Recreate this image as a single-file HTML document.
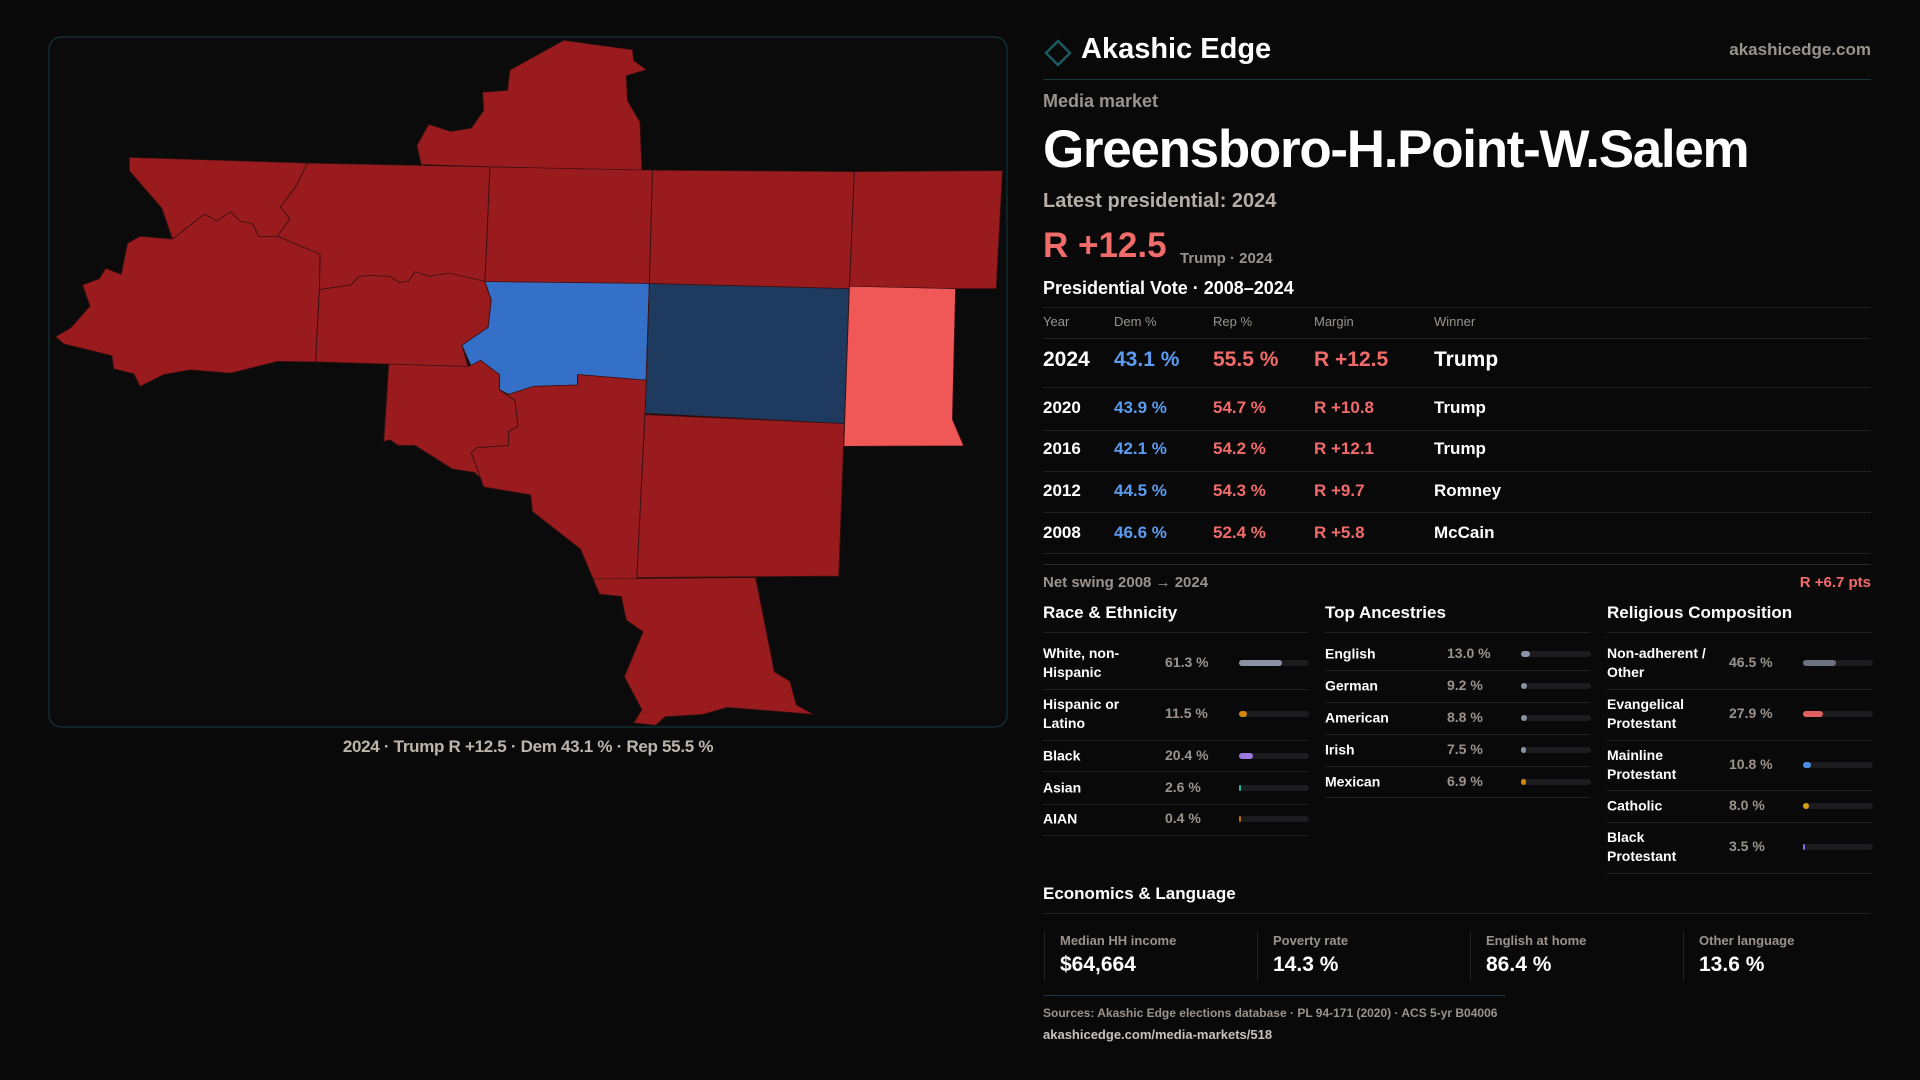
<!DOCTYPE html>
<html><head><meta charset="utf-8">
<style>
*{margin:0;padding:0;box-sizing:border-box}
body{width:1920px;height:1080px;background:#0a0909;font-family:"Liberation Sans",sans-serif;color:#fff;position:relative;overflow:hidden}
.a{position:absolute;white-space:nowrap}
.hl{position:absolute;height:1px;background:#222}
.g{color:#9a938c}
.bar{position:absolute;height:6px;border-radius:3px;background:#1c1c1e}
.bar i{display:block;height:6px;border-radius:3px}
.tr{position:absolute;left:1043px;width:828px;font-size:17px;font-weight:bold}
.tr span{position:absolute}
</style></head><body>
<svg width="1920" height="1080" style="position:absolute;left:0;top:0" id="mapsvg">
<rect x="49" y="37" width="958" height="690" rx="12" fill="#0b0b0c" stroke="#12343a" stroke-width="1.2"/>
<g id="counties" transform="translate(40,30) scale(0.625,0.472)"></g>
</svg>
<div class="a" style="left:0;width:1056px;text-align:center;top:737px;font-size:17px;color:#bdb5ab;font-weight:bold;letter-spacing:-0.3px">2024 · Trump R +12.5 · Dem 43.1 % · Rep 55.5 %</div>

<svg class="a" style="left:1043px;top:38px" width="30" height="30"><path d="M15 3 L27 15 L15 27 L3 15 Z" fill="none" stroke="#1a5a60" stroke-width="2.5"/></svg>
<div class="a" style="left:1081px;top:33px;font-size:29px;font-weight:bold">Akashic Edge</div>
<div class="a g" style="right:49px;top:40px;font-size:17px;font-weight:bold">akashicedge.com</div>
<div class="hl" style="left:1043px;width:828px;top:79px;background:#123a40"></div>
<div class="a g" style="left:1043px;top:91px;font-size:18px;font-weight:bold">Media market</div>
<div class="a" style="left:1043px;top:119px;font-size:53px;font-weight:bold;letter-spacing:-1.3px">Greensboro-H.Point-W.Salem</div>
<div class="a" style="left:1043px;top:190px;font-size:20px;font-weight:bold;color:#b5aea6">Latest presidential: 2024</div>
<div class="a" style="left:1043px;top:226px;font-size:35px;font-weight:bold;color:#f26b6b">R +12.5</div>
<div class="a g" style="left:1180px;top:250px;font-size:15px;font-weight:bold">Trump · 2024</div>
<div class="a" style="left:1043px;top:278px;font-size:18px;font-weight:bold">Presidential Vote · 2008–2024</div>
<div class="hl" style="left:1043px;width:828px;top:307px"></div>
<div class="tr g" style="top:314px;font-size:13px;font-weight:normal"><span style="left:0">Year</span><span style="left:71px">Dem %</span><span style="left:170px">Rep %</span><span style="left:271px">Margin</span><span style="left:391px">Winner</span></div>
<div class="hl" style="left:1043px;width:828px;top:338px"></div>
<div id="rows"></div>
<div class="hl" style="left:1043px;width:828px;top:564px;background:#2a2a2a"></div>
<div class="a g" style="left:1043px;top:574px;font-size:15px;font-weight:bold">Net swing 2008 → 2024</div>
<div class="a" style="right:49px;top:574px;font-size:15px;font-weight:bold;color:#f26b6b">R +6.7 pts</div>

<div class="a" style="left:1043px;top:603px;font-size:17px;font-weight:bold">Race &amp; Ethnicity</div>
<div class="a" style="left:1325px;top:603px;font-size:17px;font-weight:bold">Top Ancestries</div>
<div class="a" style="left:1607px;top:603px;font-size:17px;font-weight:bold">Religious Composition</div>
<div id="demo"></div>

<div class="a" style="left:1043px;top:884px;font-size:17px;font-weight:bold">Economics &amp; Language</div>
<div class="hl" style="left:1043px;width:828px;top:913px"></div>
<div id="cards"></div>
<div class="hl" style="left:1043px;width:463px;top:995px;background:#123a40"></div>
<div class="a g" style="left:1043px;top:1006px;font-size:12px;font-weight:bold">Sources: Akashic Edge elections database · PL 94-171 (2020) · ACS 5-yr B04006</div>
<div class="a" style="left:1043px;top:1027px;font-size:13px;font-weight:bold;color:#c8c2bb">akashicedge.com/media-markets/518</div>

<script>
// Map data
const countyNames=["north","west-top","mid-top","center-top","east-top","far-east-top","west-big","mid-west","center-blue","center-navy","east-pink","southwest","south-mid","southeast","south"];
const countyMargins=[30,32,30,28,28,28,32,30,-20,-3,5,30,30,30,30];
const countyShapes=[
"838,22 948,42 950,65 970,84 938,97 940,150 960,195 963,297 860,295 720,290 610,285 603,245 622,200 657,215 690,208 710,170 708,132 748,128 752,85",
"143,270 428,282 410,330 385,375 400,400 380,437 350,438 340,410 320,405 305,385 283,405 263,390 212,443 195,378 143,298",
"428,282 720,290 712,533 655,515 623,522 600,512 590,532 575,535 560,522 530,520 510,522 498,540 447,550 448,475 380,437 400,400 385,375 410,330",
"720,290 980,297 975,537 712,533",
"980,297 1303,300 1295,548 975,537",
"1303,300 1540,298 1530,548 1295,548",
"212,443 263,390 283,405 305,385 320,405 340,410 350,438 380,437 448,475 447,550 441,703 380,702 305,727 240,720 198,730 160,755 150,728 118,718 115,690 38,665 25,650 50,630 80,585 68,540 95,527 105,505 130,518 140,452 160,437",
"447,550 498,540 510,522 530,520 560,522 575,535 590,532 600,512 623,522 655,515 712,533 722,572 717,630 675,668 685,713 441,703",
"712,533 975,537 970,742 860,730 860,752 790,755 750,772 735,762 735,730 705,700 690,713 675,668 717,630 722,572",
"975,537 1295,548 1287,834 968,812",
"1295,543 1465,548 1460,825 1478,881 1286,882",
"558,708 685,713 705,700 735,730 735,762 760,785 765,840 750,850 750,880 700,885 690,895 705,950 695,937 660,930 600,880 573,880 560,868 550,872",
"735,762 750,772 790,755 860,752 860,730 970,742 968,812 955,1163 885,1163 865,1100 788,1020 785,985 710,968 705,950 690,895 700,885 750,880 750,850 765,840 760,785",
"968,815 1287,834 1278,1157 955,1160",
"885,1163 1145,1160 1175,1360 1200,1380 1210,1430 1238,1450 1100,1435 1060,1450 1000,1455 985,1473 950,1468 963,1440 935,1370 965,1275 938,1250 930,1200 895,1195"];
function marginColor(m){if(m>=10)return"#991b1e";if(m>0)return"#f05858";if(m>-10)return"#1e3a5f";return"#3470c8";}
const NS="http://www.w3.org/2000/svg";
const g=document.getElementById('counties');
countyShapes.forEach((pts,i)=>{const p=document.createElementNS(NS,'polygon');p.setAttribute('points',pts);p.setAttribute('fill',marginColor(countyMargins[i]));p.setAttribute('stroke','#3a1010');p.setAttribute('stroke-width','1.5');


g.appendChild(p);});

// Vote table
const years=["2024","2020","2016","2012","2008"];
const demPct=[43.1,43.9,42.1,44.5,46.6];
const repPct=[55.5,54.7,54.2,54.3,52.4];
const margins=[12.5,10.8,12.1,9.7,5.8];
const winners=["Trump","Trump","Trump","Romney","McCain"];
const rowTops=[348,398,439,481,523];const lineTops=[387,430,471,512,553];
const rows=document.getElementById('rows');
years.forEach((y,i)=>{const d=document.createElement('div');d.className='tr';d.style.top=rowTops[i]+'px';if(i==0){d.style.fontSize='21px';}


d.innerHTML=`<span style="left:0">${y}</span><span style="left:71px;color:#5b9cf0">${demPct[i].toFixed(1)} %</span><span style="left:170px;color:#f26b6b">${repPct[i].toFixed(1)} %</span><span style="left:271px;color:#f26b6b">R +${margins[i].toFixed(1)}</span><span style="left:391px">${winners[i]}</span>`;
rows.appendChild(d);const l=document.createElement('div');l.className='hl';l.style.cssText=`left:1043px;width:828px;top:${lineTops[i]}px`;rows.appendChild(l);});

// Demographics
const raceLabels=["White, non-<br>Hispanic","Hispanic or<br>Latino","Black","Asian","AIAN"];
const raceValues=[61.3,11.5,20.4,2.6,0.4];
const raceColors=["#8a94a6","#d4860b","#9b7be0","#22b89a","#c26a1a"];
const ancLabels=["English","German","American","Irish","Mexican"];
const ancValues=[13.0,9.2,8.8,7.5,6.9];
const ancColors=["#8a94a6","#8a94a6","#8a94a6","#8a94a6","#d4860b"];
const relLabels=["Non-adherent /<br>Other","Evangelical<br>Protestant","Mainline<br>Protestant","Catholic","Black<br>Protestant"];
const relValues=[46.5,27.9,10.8,8.0,3.5];
const relColors=["#6b7280","#e06060","#4a8fe0","#d4a017","#8a6ee0"];
const demo=document.getElementById('demo');
function col(key,x,labels,vals,colors,centers,lines){
 labels.forEach((lb,i)=>{const c=centers[i];
  const L=document.createElement('div');L.className='a';L.style.cssText=`left:${x}px;top:${c}px;transform:translateY(-50%);font-size:14px;font-weight:bold;line-height:19px`;L.innerHTML=lb;
  
  
  demo.appendChild(L);
  const V=document.createElement('div');V.className='a g';V.style.cssText=`left:${x+122}px;top:${c-9}px;font-size:14px;font-weight:bold`;V.textContent=vals[i].toFixed(1)+' %';
  
  
  demo.appendChild(V);
  const B=document.createElement('div');B.className='bar';B.style.cssText=`left:${x+196}px;top:${c-3}px;width:70px`;
  B.innerHTML=`<i style="width:${Math.max(2,vals[i]/100*70)}px;background:${colors[i]}"></i>`;
  
  
  demo.appendChild(B);
 });
 [632].concat(lines).forEach(t=>{const l=document.createElement('div');l.className='hl';l.style.cssText=`left:${x}px;width:265px;top:${t}px`;demo.appendChild(l);});
}
col('race',1043,raceLabels,raceValues,raceColors,[663,714,756,788,819],[689,740,771,804,835]);
col('ancestry',1325,ancLabels,ancValues,ancColors,[654,686,718,750,782],[670,702,734,766,797]);
col('religion',1607,relLabels,relValues,relColors,[663,714,765,806,847],[689,740,790,822,873]);

// Econ cards
const cardLabels=["Median HH income","Poverty rate","English at home","Other language"];
const cardValues=["$64,664","14.3 %","86.4 %","13.6 %"];
const cardX=[1044,1257,1470,1683];
const cards=document.getElementById('cards');
cardLabels.forEach((lb,i)=>{const d=document.createElement('div');d.className='a';d.style.cssText=`left:${cardX[i]}px;top:931px;height:50px;width:200px;border-left:1px solid #222;padding-left:15px`;
 
 
 d.innerHTML=`<div class="g" style="font-size:13px;font-weight:bold;margin-top:2px">${lb}</div><div style="font-size:21px;font-weight:bold;margin-top:5px">${cardValues[i]}</div>`;cards.appendChild(d);});
</script>
</body></html>
